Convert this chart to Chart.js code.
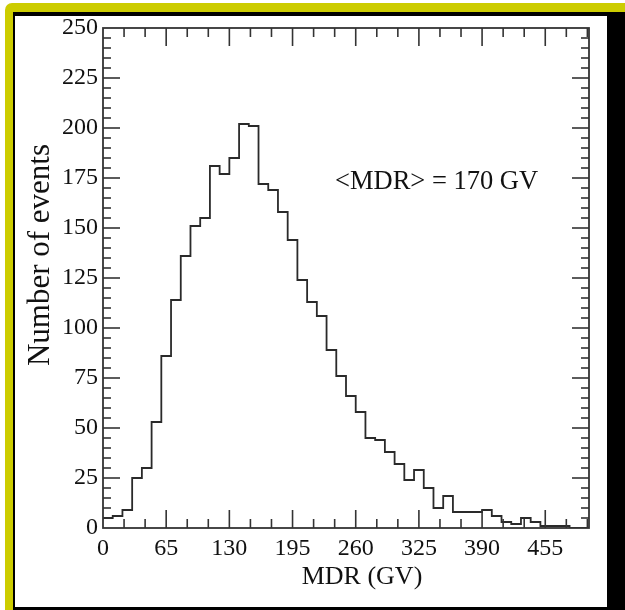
<!DOCTYPE html>
<html><head><meta charset="utf-8">
<script src="https://cdn.jsdelivr.net/npm/chart.js@4.4.1/dist/chart.umd.min.js"></script>
<style>
html,body{margin:0;padding:0;background:#fff;width:625px;height:610px;overflow:hidden;position:relative}
.yel{position:absolute;left:5px;top:3px;width:620px;height:607px;background:#cccc00;border-top-left-radius:7px}
.blk{position:absolute;left:13px;top:12px;width:612px;height:598px;background:#000}
.wht{position:absolute;left:15px;top:16px;width:592px;height:591px;background:#fff}
#c{position:absolute;left:0;top:0}
</style></head><body>
<div class="yel"></div><div class="blk"></div><div class="wht"></div>
<canvas id="c" width="625" height="610"></canvas>
<script>
// Histogram bin edges (GV) and counts per bin
const binEdges = [0,10,20,30,40,50,60,70,80,90,100,110,120,130,140,150,160,170,180,190,200,
  210,220,230,240,250,260,270,280,290,300,310,320,330,340,350,360,370,380,390,400,
  410,420,430,440,450,460,470,480,490,500];
const counts = [5,6,9,25,30,53,86,114,136,151,155,181,177,185,202,201,172,169,158,144,
  124,113,106,89,76,66,58,45,44,38,32,24,29,20,10,16,8,8,8,9,
  6,3,2,5,3,1,1,1,0,0];
const xTicks = [0,65,130,195,260,325,390,455];
const yTicks = [0,25,50,75,100,125,150,175,200,225,250];
const xTitle = 'MDR (GV)';
const yTitle = 'Number of events';
const annotation = '<MDR> = 170 GV';

const points = counts.map((v,i)=>({x:binEdges[i], y:v}));
points.push({x:binEdges[binEdges.length-1], y:counts[counts.length-1]});

const SERIF = "'Liberation Serif', 'DejaVu Serif', serif";
const AX = '#333';

const framePlugin = {
  id:'frame',
  afterDatasetsDraw(chart){
    const {ctx, chartArea:a, scales:{x, y}} = chart;
    ctx.save();
    ctx.strokeStyle = AX;
    ctx.lineWidth = 1.8;
    ctx.strokeRect(a.left, a.top, a.right-a.left, a.bottom-a.top);
    ctx.lineWidth = 1.6;
    const line=(x1,y1,x2,y2)=>{ctx.beginPath();ctx.moveTo(x1,y1);ctx.lineTo(x2,y2);ctx.stroke();};
    // x ticks (major + 2 minors between)
    const xs = (xTicks[1]-xTicks[0])/3;
    for (let v=x.min; v<=x.max+1e-6; v+=xs){
      const isMajor = xTicks.some(t=>Math.abs(t-v)<1e-6);
      const L = isMajor?18:9;
      const px = x.getPixelForValue(v);
      if (px<=a.left+0.5 || px>=a.right-0.5) continue;
      line(px,a.bottom,px,a.bottom-L);
      line(px,a.top,px,a.top+L);
    }
    // y ticks (major + 4 minors between)
    const ys = (yTicks[1]-yTicks[0])/5;
    for (let v=y.min; v<=y.max+1e-6; v+=ys){
      const isMajor = yTicks.some(t=>Math.abs(t-v)<1e-6);
      const L = isMajor?17:8;
      const py = y.getPixelForValue(v);
      if (py<=a.top+0.5 || py>=a.bottom-0.5) continue;
      line(a.left,py,a.left+L,py);
      line(a.right,py,a.right-L,py);
    }
    // titles
    ctx.fillStyle = '#111';
    ctx.textBaseline = 'alphabetic';
    ctx.textAlign = 'center';
    ctx.font = '26px '+SERIF;
    ctx.fillText(xTitle, 362, 584);
    ctx.save();
    ctx.translate(49, 255);
    ctx.rotate(-Math.PI/2);
    ctx.font = '31px '+SERIF;
    ctx.fillText(yTitle, 0, 0);
    ctx.restore();
    ctx.font = '26.5px '+SERIF;
    ctx.textAlign = 'left';
    ctx.fillText(annotation, 335, 189);
    ctx.restore();
  }
};

new Chart(document.getElementById('c'), {
  type:'line',
  data:{datasets:[{
    data:points,
    stepped:true,
    borderColor:'#2a2a2a',
    borderWidth:1.8,
    pointRadius:0,
    fill:false,
    tension:0
  }]},
  options:{
    responsive:false,
    animation:false,
    events:[],
    layout:{padding:{left:0, top:28, right:36, bottom:0}},
    plugins:{legend:{display:false}, tooltip:{enabled:false}},
    scales:{
      x:{
        type:'linear', min:0, max:500,
        afterBuildTicks:s=>{s.ticks = xTicks.map(v=>({value:v}));},
        afterFit:s=>{s.height=82;},
        grid:{display:false, drawTicks:false},
        border:{display:false},
        ticks:{font:{family:SERIF, size:24}, color:'#111', padding:6, maxRotation:0, autoSkip:false}
      },
      y:{
        type:'linear', min:0, max:250,
        afterBuildTicks:s=>{s.ticks = yTicks.map(v=>({value:v}));},
        afterFit:s=>{s.width=103;},
        grid:{display:false, drawTicks:false},
        border:{display:false},
        ticks:{font:{family:SERIF, size:24}, color:'#111', padding:5, autoSkip:false}
      }
    }
  },
  plugins:[framePlugin]
});
</script>
</body></html>
